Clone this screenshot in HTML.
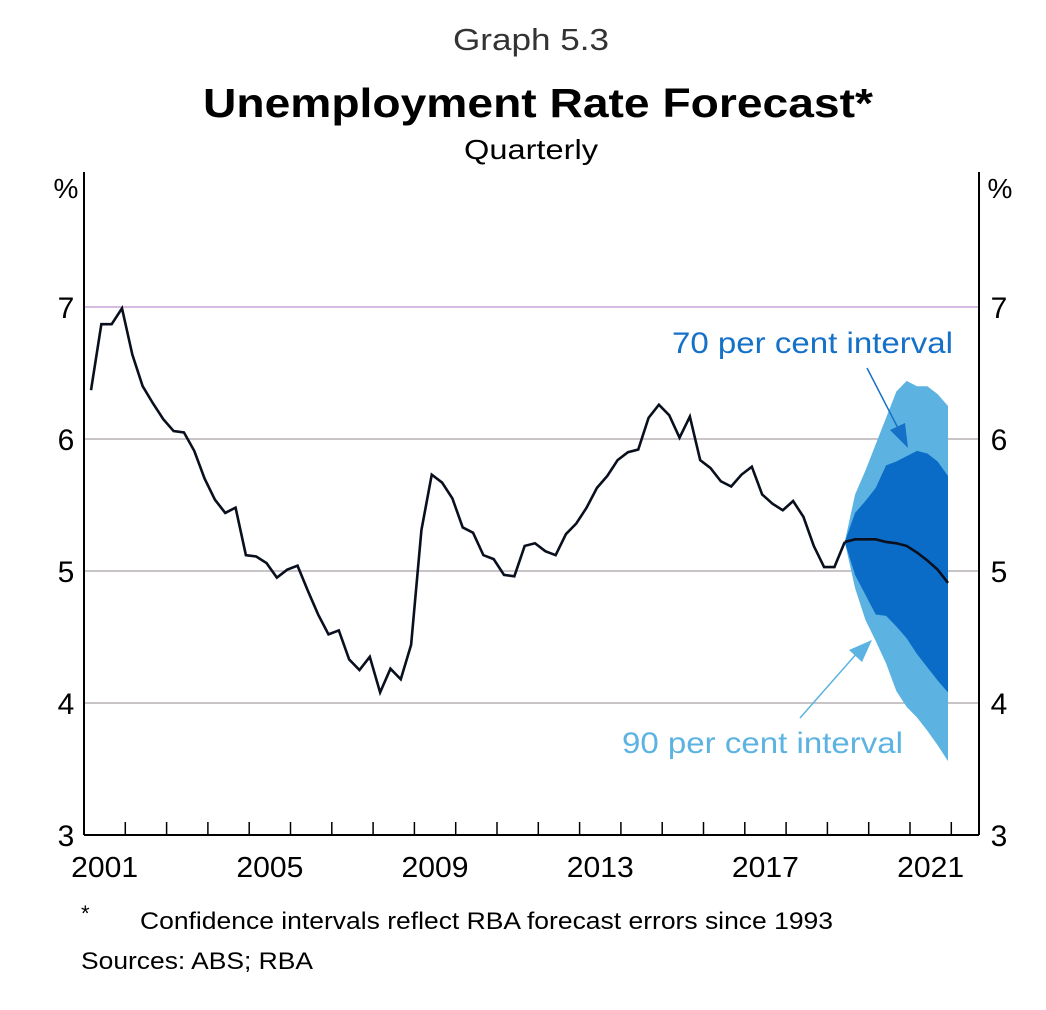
<!DOCTYPE html>
<html><head><meta charset="utf-8"><style>
body{margin:0;background:#fff;font-family:"Liberation Sans",sans-serif;}
</style></head><body>
<svg width="1046" height="1005" viewBox="0 0 1046 1005" xmlns="http://www.w3.org/2000/svg" font-family="Liberation Sans, sans-serif">
<text x="531" y="50" font-size="31" fill="#333" text-anchor="middle" textLength="156" lengthAdjust="spacingAndGlyphs">Graph 5.3</text>
<text x="538" y="117" font-size="41" font-weight="bold" text-anchor="middle" textLength="670" lengthAdjust="spacingAndGlyphs">Unemployment Rate Forecast*</text>
<text x="531" y="159" font-size="28" text-anchor="middle" textLength="134" lengthAdjust="spacingAndGlyphs">Quarterly</text>
<text x="66" y="198" font-size="28" text-anchor="middle">%</text>
<text x="1000" y="198" font-size="28" text-anchor="middle">%</text>
<g id="grid"></g>
<g id="bands"></g>
<g id="lines"></g>
<g id="axes"></g>
<text x="672" y="353" font-size="30" fill="#1570c8" textLength="281" lengthAdjust="spacingAndGlyphs">70 per cent interval</text>
<text x="622" y="753" font-size="30" fill="#5cb3e2" textLength="281" lengthAdjust="spacingAndGlyphs">90 per cent interval</text>
<g>
<line x1="867" y1="368" x2="900" y2="432" stroke="#1570c8" stroke-width="1.5"/>
<polygon points="908,448 890,430 905,423" fill="#1570c8"/>
</g>
<g>
<line x1="800" y1="718" x2="858" y2="652" stroke="#5cb3e2" stroke-width="1.5"/>
<polygon points="872,640 849,650 862,662" fill="#5cb3e2"/>
</g>
<text x="81" y="921" font-size="22">*</text>
<text x="140" y="929" font-size="24" textLength="693" lengthAdjust="spacingAndGlyphs">Confidence intervals reflect RBA forecast errors since 1993</text>
<text x="81" y="969" font-size="24" textLength="232" lengthAdjust="spacingAndGlyphs">Sources: ABS; RBA</text>
</svg>
<script>
const history = [6.37,6.87,6.87,6.99,6.64,6.40,6.27,6.15,6.06,6.05,5.91,5.70,5.54,5.44,5.48,5.12,5.11,5.06,4.95,5.01,5.04,4.85,4.67,4.52,4.55,4.33,4.25,4.35,4.08,4.26,4.18,4.44,5.31,5.73,5.67,5.55,5.33,5.29,5.12,5.09,4.97,4.96,5.19,5.21,5.15,5.12,5.28,5.36,5.48,5.63,5.72,5.84,5.90,5.92,6.16,6.26,6.18,6.01,6.17,5.84,5.78,5.68,5.64,5.73,5.79,5.58,5.51,5.46,5.53,5.41,5.19,5.03,5.03,5.22];
const forecast = [5.22,5.24,5.24,5.24,5.22,5.21,5.19,5.14,5.08,5.01,4.91];
const upper70 = [5.22,5.44,5.53,5.63,5.80,5.83,5.87,5.91,5.89,5.83,5.72];
const lower70 = [5.22,4.97,4.82,4.67,4.66,4.58,4.49,4.37,4.27,4.17,4.08];
const upper90 = [5.22,5.58,5.76,5.96,6.16,6.36,6.44,6.40,6.40,6.34,6.25];
const lower90 = [5.22,4.87,4.63,4.47,4.30,4.09,3.97,3.89,3.79,3.68,3.56];
const yTicks = [3,4,5,6,7];
const xLabels = ["2001","2005","2009","2013","2017","2021"];

const NS="http://www.w3.org/2000/svg";
const L=84,R=979,T=172,B=835,yearW=41.3;
const y=v=>835-(v-3)*132;
const xq=i=>L+yearW*(i+0.68)/4;
const xYear=yr=>L+(yr-2001)*yearW;
function mk(tag,attrs,parent){const e=document.createElementNS(NS,tag);for(const k in attrs)e.setAttribute(k,attrs[k]);parent.appendChild(e);return e;}
const grid=document.getElementById('grid'),bands=document.getElementById('bands'),lines=document.getElementById('lines'),axes=document.getElementById('axes');
yTicks.forEach(v=>{
  if(v>3){const g=mk('line',{x1:L,x2:R,y1:y(v),y2:y(v),stroke:v===7?'#c9a6d6':'#b5b0b5','stroke-width':1.5},grid);
  
  }
  const t1=mk('text',{x:66,y:y(v)+11,'font-size':30,'text-anchor':'middle'},axes);t1.textContent=v;
  
  
  const t2=mk('text',{x:999,y:y(v)+11,'font-size':30,'text-anchor':'middle'},axes);t2.textContent=v;
  
  
});
const off=history.length-1;
function band(up,lo,color,name){
  let pts=up.map((v,i)=>xq(off+i)+','+y(v));
  for(let i=lo.length-1;i>=0;i--)pts.push(xq(off+i)+','+y(lo[i]));
  const p=mk('polygon',{points:pts.join(' '),fill:color},bands);
  
  
}
band(upper90,lower90,'#5cb3e2','band-90');
band(upper70,lower70,'#0a6cc6','band-70');
const h=mk('polyline',{points:history.map((v,i)=>xq(i)+','+y(v)).join(' '),fill:'none',stroke:'#0a0f1e','stroke-width':2.6,'stroke-linejoin':'miter'},lines);


const f=mk('polyline',{points:forecast.map((v,i)=>xq(off+i)+','+y(v)).join(' '),fill:'none',stroke:'#0a0f1e','stroke-width':2.6},lines);


[[L,T,L,B],[R,T,R,B],[L,B,R,B]].forEach(c=>{
  const a=mk('line',{x1:c[0],y1:c[1],x2:c[2],y2:c[3],stroke:'#000','stroke-width':2},axes);
  
  
});
for(let yr=2002;yr<=2022;yr++){
  const tk=mk('line',{x1:xYear(yr),x2:xYear(yr),y1:B-13,y2:B,stroke:'#000','stroke-width':1.5},axes);
  
  
}
xLabels.forEach(s=>{
  const t=mk('text',{x:xYear(+s)+yearW/2,y:877,'font-size':29,'text-anchor':'middle',textLength:67,lengthAdjust:'spacingAndGlyphs'},axes);t.textContent=s;
  
  
});
</script>
</body></html>
